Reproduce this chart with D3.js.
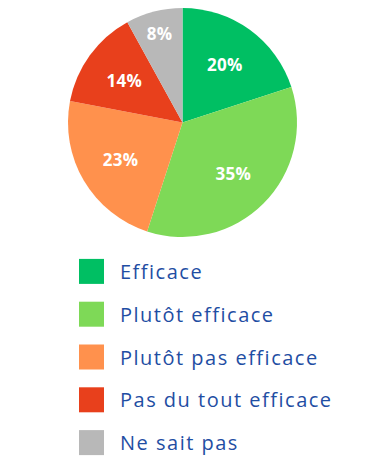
<!DOCTYPE html>
<html lang="fr">
<head>
    <meta charset="UTF-8">
    <script src="https://d3js.org/d3.v7.min.js"></script>
    <style>
        body { margin: 0; background: #fff; font-family: "Open Sans", Arial, sans-serif; }
        .pct { fill: #fff; font-weight: bold; font-size: 17px; letter-spacing: 0.3px; }
        .leg { fill: #1f4ea3; font-size: 20px; letter-spacing: 1.5px; }
    </style>
</head>
<body>
    <div id="chart"></div>
    <script>
        const categories = ["Efficace", "Plutôt efficace", "Plutôt pas efficace", "Pas du tout efficace", "Ne sait pas"];
        const values = [20, 35, 23, 14, 8];
        const colors = ["#00bf63", "#7ed957", "#ff914d", "#e8401c", "#b8b8b8"];

        const width = 370, height = 470;
        const cx = 182.5, cy = 122.5, radius = 114.5;

        const svg = d3.select("#chart").append("svg")
            .attr("width", width)
            .attr("height", height);

        const data = categories.map((c, i) => ({ name: c, value: values[i], color: colors[i] }));

        const pie = d3.pie().value(d => d.value).sort(null);
        const arc = d3.arc().innerRadius(0).outerRadius(radius);

        const g = svg.append("g").attr("transform", `translate(${cx},${cy})`);
        const arcs = pie(data);

        g.selectAll("path")
            .data(arcs)
            .enter()
            .append("path")
            .attr("d", arc)
            .attr("fill", d => d.data.color);

        // small slice label sits further out
        const labelArc = d => {
            const r = d.data.value < 10 ? 92 : 72;
            return d3.arc().innerRadius(r).outerRadius(r).centroid(d);
        };

        g.selectAll(".pct")
            .data(arcs)
            .enter()
            .append("text")
            .attr("class", "pct")
            .attr("x", d => labelArc(d)[0])
            .attr("y", d => labelArc(d)[1])
            .attr("text-anchor", "middle")
            .attr("dominant-baseline", "central")
            .text(d => d.data.value + "%");

        const y = d3.scaleBand()
            .domain(categories)
            .range([253, 467])
            .paddingInner(0);

        const leg = svg.append("g");
        leg.selectAll("rect")
            .data(data)
            .enter()
            .append("rect")
            .attr("x", 79)
            .attr("y", d => y(d.name) + y.bandwidth() / 2 - 15.5)
            .attr("width", 25)
            .attr("height", 25)
            .attr("fill", d => d.color);

        leg.selectAll(".leg")
            .data(data)
            .enter()
            .append("text")
            .attr("class", "leg")
            .attr("x", 120)
            .attr("y", d => y(d.name) + y.bandwidth() / 2 - 3)
            .attr("dominant-baseline", "central")
            .text(d => d.name);
    </script>
</body>
</html>
